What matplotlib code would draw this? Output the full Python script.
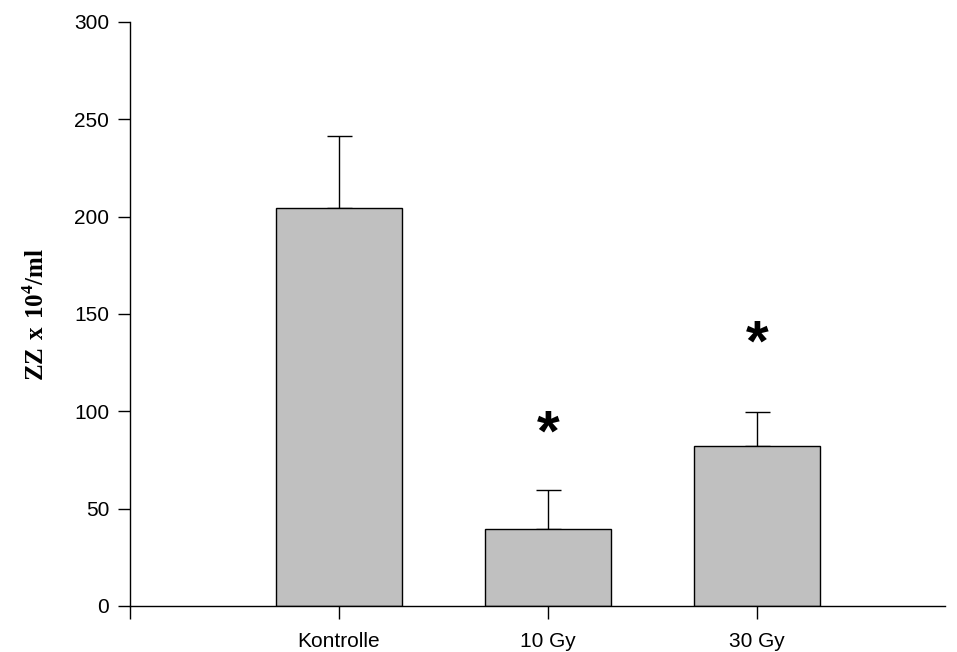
import matplotlib
matplotlib.use('Agg')
import matplotlib.pyplot as plt

# cell counts per group
groups = ['Kontrolle', '10 Gy', '30 Gy']
means = [204.4, 39.7, 82.3]
sem = [36.8, 20.1, 17.3]
signif = [False, True, True]
star_y = [None, 95.5, 141.8]

plt.rcParams['font.family'] = ['Liberation Sans', 'DejaVu Sans']
plt.rcParams['mathtext.fontset'] = 'custom'
plt.rcParams['mathtext.rm'] = 'Liberation Serif'
plt.rcParams['mathtext.bf'] = 'Liberation Serif:bold'

fig = plt.figure(figsize=(9.57, 6.52), dpi=100)
ax = fig.add_axes([0.1358, 0.0706, 0.8517, 0.8957])

pos = list(range(len(groups)))
ax.bar(pos, means, width=0.6, color='#c0c0c0', edgecolor='black', linewidth=1.0, zorder=2)
ax.errorbar(pos, means, yerr=[[0] * len(sem), sem], fmt='none', ecolor='black',
            elinewidth=1.0, capsize=9, capthick=1.0, zorder=1)

# significance markers; the glyph sits high in its box, so shift it down a bit
for p, s, y in zip(pos, signif, star_y):
    if s:
        ax.text(p, y - 8, '*', ha='center', va='center', fontsize=42, fontweight='bold',
                fontfamily='Liberation Sans')

ax.set_xlim(-1.0, 2.9)
ax.set_ylim(0, 300)
ax.set_yticks(range(0, 301, 50))
ax.set_xticks([-1] + pos)
ax.set_xticklabels([''] + groups)
ax.tick_params(axis='both', direction='out', length=9, width=1, labelsize=15, colors='black', pad=6)
ax.tick_params(axis='x', pad=10)

for side in ['top', 'right']:
    ax.spines[side].set_visible(False)
ax.spines['left'].set_linewidth(1.0)
ax.spines['bottom'].set_linewidth(1.0)

ax.set_ylabel(r'$\mathbf{ZZ\ x\ 10}^{\mathbf{4}}\mathbf{/ml}$', fontsize=18, labelpad=18)

fig.savefig('out.png', dpi=100)
